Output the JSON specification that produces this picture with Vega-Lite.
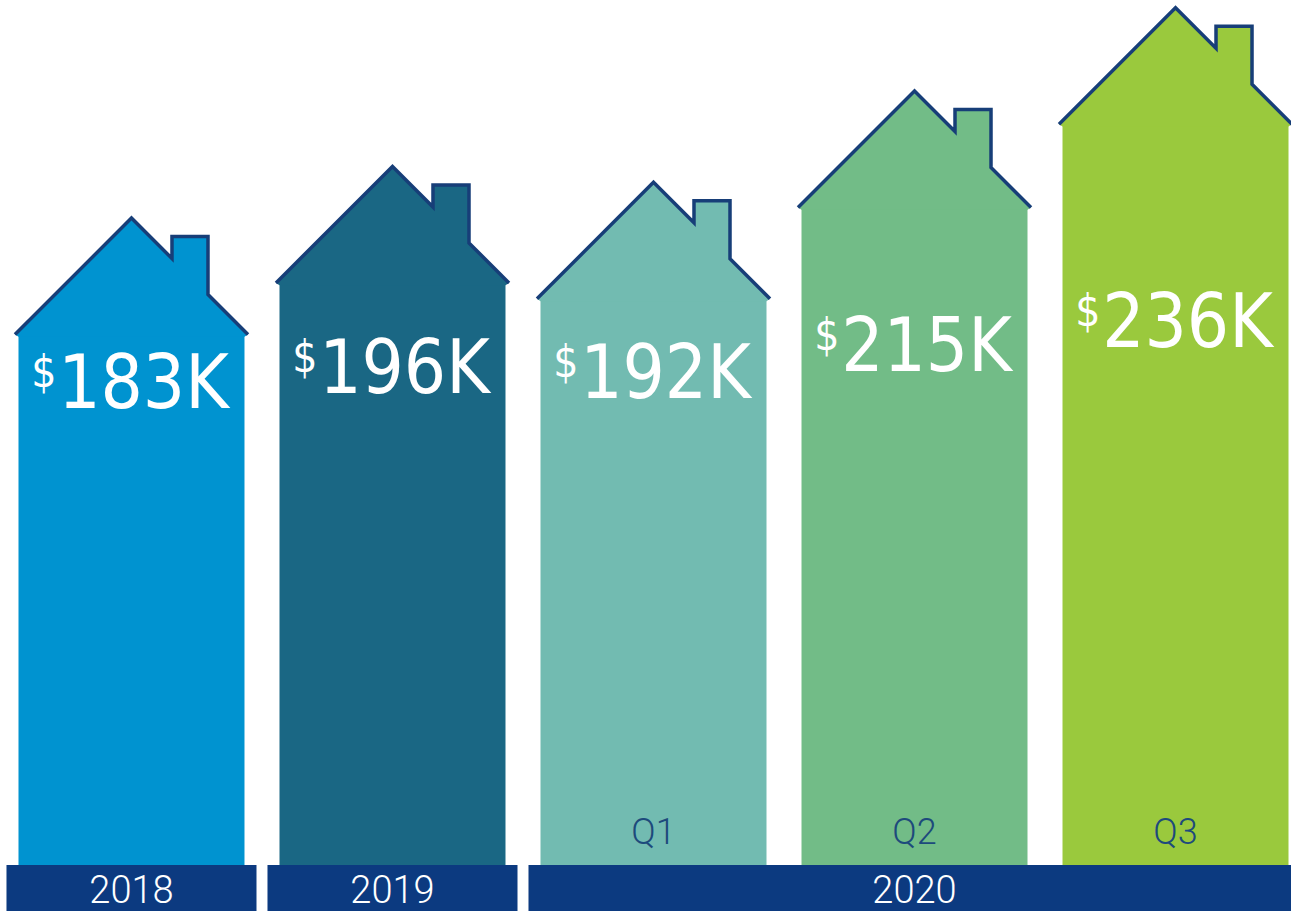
{
  "$schema": "https://vega.github.io/schema/vega-lite/v6.json",
  "width": 1291,
  "height": 911,
  "autosize": {"type": "fit", "contains": "padding"},
  "padding": 0,
  "background": "#ffffff",
  "config": {"view": {"stroke": null}},
  "data": {
    "values": [
      {"cat": "2018", "value": 183, "label": "183K", "q": ""},
      {"cat": "2019", "value": 196, "label": "196K", "q": ""},
      {"cat": "Q1", "value": 192, "label": "192K", "q": "Q1"},
      {"cat": "Q2", "value": 215, "label": "215K", "q": "Q2"},
      {"cat": "Q3", "value": 236, "label": "236K", "q": "Q3"}
    ]
  },
  "encoding": {
    "x": {
      "field": "cat",
      "type": "nominal",
      "axis": null,
      "sort": null,
      "scale": {"type": "band", "domain": ["2018", "2019", "Q1", "Q2", "Q3"], "range": [1, 1306], "paddingInner": 0.0421, "paddingOuter": 0.021}
    }
  },
  "layer": [
    {
      "layer": [
        {
          "mark": {"type": "bar", "width": 226, "opacity": 1},
          "encoding": {
            "y": {"field": "value", "type": "quantitative", "axis": null, "scale": {"domain": [37.5, 267.04], "range": [911, 0], "zero": false, "nice": false}},
            "y2": {"datum": 49.35},
            "color": {"field": "cat", "type": "nominal", "legend": null, "scale": {"domain": ["2018", "2019", "Q1", "Q2", "Q3"], "range": ["#0093d0", "#1a6784", "#72bbb1", "#72bc87", "#9ac93d"]}}
          }
        },
        {
          "mark": {"type": "point", "filled": true, "opacity": 1, "size": 54289, "strokeWidth": 0, "shape": "M-1,0L0,-1L0.3476,-0.6524L0.3476,-0.841L0.6567,-0.841L0.6567,-0.3433L1,0L0.97,0.02L-0.97,0.02Z"},
          "encoding": {
            "y": {"field": "value", "type": "quantitative", "axis": null},
            "color": {"field": "cat", "type": "nominal", "legend": null}
          }
        },
        {
          "mark": {"type": "point", "filled": false, "opacity": 1, "size": 54289, "stroke": "#173e78", "strokeWidth": 3.5, "fill": null, "strokeJoin": "miter", "shape": "M-1,0L0,-1L0.3476,-0.6524L0.3476,-0.841L0.6567,-0.841L0.6567,-0.3433L1,0"},
          "encoding": {
            "y": {"field": "value", "type": "quantitative", "axis": null}
          }
        },
        {
          "mark": {"type": "text", "font": "Roboto", "fontWeight": 300, "fontSize": 36, "letterSpacing": 4, "color": "#1d4a7c", "baseline": "alphabetic", "align": "center"},
          "encoding": {
            "y": {"datum": 54.6, "type": "quantitative"},
            "text": {"field": "q"}
          }
        },
        {
          "data": {
            "values": [
              {"year": "2018", "from": "2018", "to": "2018", "mid": "2018"},
              {"year": "2019", "from": "2019", "to": "2019", "mid": "2019"},
              {"year": "2020", "from": "Q1", "to": "Q3", "mid": "Q2"}
            ]
          },
          "layer": [
            {
              "mark": {"type": "bar", "color": "#0c3a80", "opacity": 1},
              "encoding": {
                "x": {"field": "from", "type": "nominal", "bandPosition": 0, "axis": null},
                "x2": {"field": "to", "bandPosition": 1},
                "y": {"datum": 49.35, "type": "quantitative"},
                "y2": {"datum": 37.5}
              }
            },
            {
              "mark": {"type": "text", "font": "Roboto", "fontWeight": 300, "fontSize": 38, "letterSpacing": 4, "color": "#ffffff", "baseline": "alphabetic", "align": "center"},
              "encoding": {
                "x": {"field": "mid", "type": "nominal", "axis": null},
                "y": {"datum": 39.8, "type": "quantitative"},
                "text": {"field": "year"}
              }
            }
          ]
        }
      ]
    },
    {
      "layer": [
        {
          "mark": {"type": "text", "font": "DejaVu Sans Condensed, Liberation Sans Narrow, Roboto Condensed, Roboto, sans-serif", "fontSize": 74, "color": "#ffffff", "align": "center", "baseline": "alphabetic", "dx": 12},
          "encoding": {
            "y": {"field": "value", "type": "quantitative", "axis": null, "scale": {"domain": [-253, 535], "range": [911, 0], "zero": false, "nice": false}},
            "text": {"field": "label"}
          }
        },
        {
          "mark": {"type": "text", "font": "DejaVu Sans Condensed, Liberation Sans Narrow, Roboto Condensed, Roboto, sans-serif", "fontSize": 44, "color": "#ffffff", "align": "right", "baseline": "alphabetic", "dx": -75, "dy": -21, "text": "$"},
          "encoding": {
            "y": {"field": "value", "type": "quantitative", "axis": null}
          }
        }
      ]
    }
  ],
  "resolve": {"scale": {"y": "independent"}}
}
